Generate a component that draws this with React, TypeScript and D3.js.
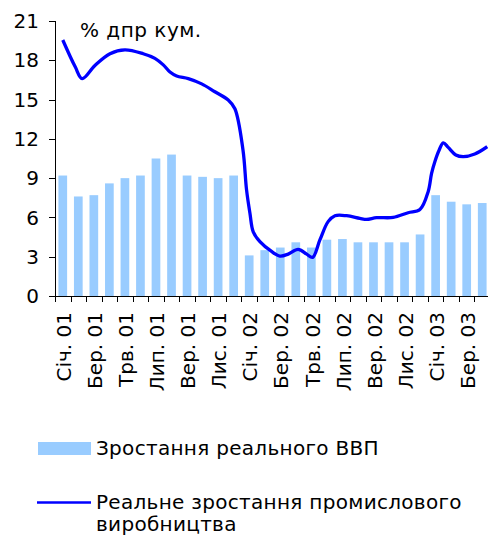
import { useEffect, useRef } from "react";
import * as d3 from "d3";

// months Jan 01 .. Apr 03
const months = [
  "Січ. 01", "Лют. 01", "Бер. 01", "Квіт. 01", "Трв. 01", "Чер. 01", "Лип. 01",
  "Сер. 01", "Вер. 01", "Жов. 01", "Лис. 01", "Гру. 01",
  "Січ. 02", "Лют. 02", "Бер. 02", "Квіт. 02", "Трв. 02", "Чер. 02", "Лип. 02",
  "Сер. 02", "Вер. 02", "Жов. 02", "Лис. 02", "Гру. 02",
  "Січ. 03", "Лют. 03", "Бер. 03", "Квіт. 03",
];

const gdp = [
  9.2, 7.6, 7.7, 8.6, 9.0, 9.2, 10.5, 10.8, 9.2, 9.1, 9.0, 9.2,
  3.1, 3.5, 3.7, 4.1, 3.7, 4.3, 4.35, 4.1, 4.1, 4.1, 4.1, 4.7,
  7.7, 7.2, 7.0, 7.1,
];

// industry line: position in months (0 = Jan 01) and value
const industryPos = [
  0, 0.8, 1.25, 2.07, 3.04, 4.0, 5.18, 5.93, 6.47, 6.9, 7.33, 8.08, 8.94, 9.79,
  10.65, 11.08, 11.6, 11.83, 12.05, 12.26, 12.69, 13.44, 13.98, 14.51, 15.15,
  15.7, 16.08, 16.55, 17.08, 17.52, 18.27, 19.12, 19.56, 20.2, 21.27, 22.23,
  22.99, 23.52, 23.74, 23.95, 24.23, 24.49, 24.81, 25.3, 25.77, 26.52, 27.32,
];
const industryVals = [
  19.55, 17.5, 16.6, 17.6, 18.5, 18.8, 18.5, 18.15, 17.65, 17.1, 16.8, 16.6,
  16.2, 15.6, 14.97, 14.3, 11.15, 8.1, 6.3, 4.9, 4.15, 3.4, 3.05, 3.2, 3.56,
  3.2, 2.95, 4.28, 5.68, 6.13, 6.13, 5.93, 5.85, 5.98, 6.0, 6.36, 6.6, 7.97,
  9.37, 10.26, 11.15, 11.7, 11.35, 10.77, 10.64, 10.84, 11.4,
];

const yTicks = [0, 3, 6, 9, 12, 15, 18, 21];

const W = 488;
const H = 536;
const FONT = "DejaVu Sans, Verdana, sans-serif";

function App() {
  const ref = useRef(null);

  useEffect(() => {
    const svg = d3.select(ref.current);
    svg.selectAll("*").remove();

    const left = 55;
    const right = 490;
    const top = 21;
    const bottom = 296;

    const x = d3.scaleBand().domain(months).range([left, right]).paddingInner(0.44).paddingOuter(0.22);
    const step = (right - left) / months.length;
    const xLin = d3
      .scaleLinear()
      .domain([0, months.length - 1])
      .range([left + step / 2, right - step / 2]);
    const y = d3.scaleLinear([0, 21], [bottom, top]);

    // bars
    svg
      .append("g")
      .selectAll("rect")
      .data(gdp)
      .join("rect")
      .attr("x", (d, i) => xLin(i) - x.bandwidth() / 2)
      .attr("y", (d) => y(d))
      .attr("width", x.bandwidth())
      .attr("height", (d) => bottom - y(d))
      .attr("fill", "#99CCFF");

    // line
    const pts = industryPos.map((p, i) => [p, industryVals[i]]);
    const line = d3
      .line()
      .x((d) => xLin(d[0]))
      .y((d) => y(d[1]))
      .curve(d3.curveCatmullRom);
    svg
      .append("path")
      .datum(pts)
      .attr("d", line)
      .attr("fill", "none")
      .attr("stroke", "#0000FF")
      .attr("stroke-width", 3.3)
      .attr("stroke-linejoin", "round");

    // y axis
    const yAxis = svg.append("g");
    yAxis
      .append("line")
      .attr("x1", left + 0.5)
      .attr("x2", left + 0.5)
      .attr("y1", y(21))
      .attr("y2", bottom)
      .attr("stroke", "black");
    yTicks.forEach((t) => {
      yAxis
        .append("line")
        .attr("x1", left - 6)
        .attr("x2", left)
        .attr("y1", Math.round(y(t)) + 0.5)
        .attr("y2", Math.round(y(t)) + 0.5)
        .attr("stroke", "black");
      yAxis
        .append("text")
        .attr("x", 39)
        .attr("y", y(t))
        .attr("dy", "0.36em")
        .attr("text-anchor", "end")
        .attr("font-family", FONT)
        .attr("font-size", 20)
        .attr("fill", "black")
        .text(t);
    });

    // x axis
    const xAxis = svg.append("g");
    xAxis
      .append("line")
      .attr("x1", left)
      .attr("x2", right)
      .attr("y1", bottom + 0.5)
      .attr("y2", bottom + 0.5)
      .attr("stroke", "black");
    d3.range(months.length + 1).forEach((k) => {
      const tx = Math.round(left + k * step) + 0.5;
      xAxis
        .append("line")
        .attr("x1", tx)
        .attr("x2", tx)
        .attr("y1", bottom)
        .attr("y2", bottom + 6)
        .attr("stroke", "black");
    });
    months.forEach((m, i) => {
      if (i % 2 !== 0) return;
      const cx = xLin(i);
      xAxis
        .append("text")
        .attr("transform", `translate(${cx + 1},312) rotate(-90)`)
        .attr("dy", "0.36em")
        .attr("text-anchor", "end")
        .attr("font-family", FONT)
        .attr("font-size", 20)
        .attr("fill", "black")
        .text(m);
    });

    // unit title
    svg
      .append("text")
      .attr("x", 80)
      .attr("y", 37)
      .attr("font-family", FONT)
      .attr("font-size", 20)
      .attr("letter-spacing", 0.5)
      .attr("fill", "black")
      .text("% дпр кум.");

    // legend
    const lg = svg
      .append("g")
      .attr("font-family", FONT)
      .attr("font-size", 20)
      .attr("letter-spacing", 0.3)
      .attr("fill", "black");
    lg.append("rect").attr("x", 38).attr("y", 442).attr("width", 53).attr("height", 13).attr("fill", "#99CCFF");
    lg.append("text").attr("x", 96).attr("y", 455).text("Зростання реального ВВП");
    lg.append("line")
      .attr("x1", 37)
      .attr("x2", 91)
      .attr("y1", 502.5)
      .attr("y2", 502.5)
      .attr("stroke", "#0000FF")
      .attr("stroke-width", 2.5);
    lg.append("text").attr("x", 96).attr("y", 509).text("Реальне зростання промислового");
    lg.append("text").attr("x", 96).attr("y", 531).text("виробництва");
  }, []);

  return (
    <svg
      ref={ref}
      width={W}
      height={H}
      style={{ position: "absolute", left: 0, top: 0, background: "white" }}
    ></svg>
  );
}

export default App;
